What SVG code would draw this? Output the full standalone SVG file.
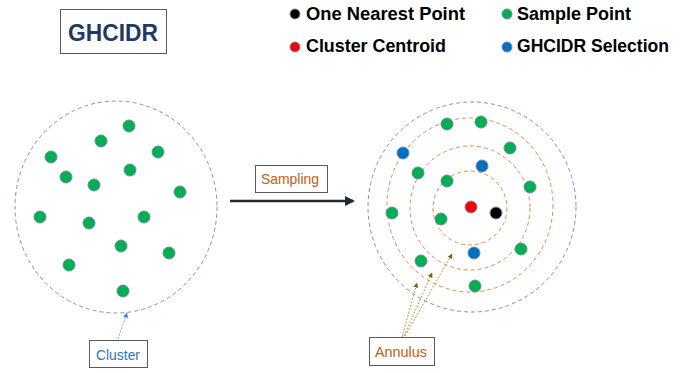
<svg xmlns="http://www.w3.org/2000/svg" width="700" height="373" viewBox="0 0 700 373">
<defs>
<style>
.g{fill:#00b050;stroke:#6f8aa8;stroke-width:1}
.b{fill:#0070c0;stroke:#6f8aa8;stroke-width:1}
.r{fill:#ff0000;stroke:#6f8aa8;stroke-width:1}
.k{fill:#000;stroke:#6f8aa8;stroke-width:1}
.lg{font-family:"Liberation Sans",Arial,sans-serif;font-weight:bold;font-size:17.5px;fill:#000}
.box{fill:#fff;stroke:#595959;stroke-width:1}
.lbl{font-family:"Liberation Sans",Arial,sans-serif;font-size:15px}
.bc{fill:none;stroke:#7f93b8;stroke-width:1;stroke-dasharray:4 3}
.oc{fill:none;stroke:#e8894a;stroke-width:1;stroke-dasharray:4 3}
</style>
<marker id="ab" viewBox="0 0 10 10" refX="9" refY="5" markerWidth="5" markerHeight="5" orient="auto"><path d="M0,0L10,5L0,10z" fill="#2e86d8"/></marker>
<marker id="ao" viewBox="0 0 10 10" refX="9" refY="5" markerWidth="5" markerHeight="5" orient="auto"><path d="M0,0L10,5L0,10z" fill="#7f6000"/></marker>
<marker id="ak" viewBox="0 0 10 10" refX="8" refY="5" markerWidth="4" markerHeight="4" orient="auto"><path d="M0,0L10,5L0,10z" fill="#222a35"/></marker>
</defs>
<rect width="700" height="373" fill="#fff"/>

<g id="title">
<rect class="box" x="60.5" y="9.5" width="106" height="44" stroke="#7f7f7f"/>
<text x="113" y="41" text-anchor="middle" font-family="Liberation Sans,Arial,sans-serif" font-weight="bold" font-size="24" fill="#1f3864" textLength="90" lengthAdjust="spacingAndGlyphs">GHCIDR</text>
</g>

<g id="legend">
<circle class="k" cx="295" cy="14" r="5"/>
<text class="lg" x="306" y="20" textLength="159" lengthAdjust="spacingAndGlyphs">One Nearest Point</text>
<circle class="r" cx="295" cy="47" r="5"/>
<text class="lg" x="306" y="52" textLength="140" lengthAdjust="spacingAndGlyphs">Cluster Centroid</text>
<circle class="g" cx="507" cy="14" r="5"/>
<text class="lg" x="517" y="20" textLength="114" lengthAdjust="spacingAndGlyphs">Sample Point</text>
<circle class="b" cx="507" cy="47" r="5"/>
<text class="lg" x="517" y="52" textLength="152" lengthAdjust="spacingAndGlyphs">GHCIDR Selection</text>
</g>

<g id="cluster-left">
<ellipse class="bc" cx="116" cy="207" rx="101" ry="106"/>
<circle class="g" cx="129" cy="126" r="6"/>
<circle class="g" cx="101" cy="141" r="6"/>
<circle class="g" cx="158" cy="152" r="6"/>
<circle class="g" cx="51" cy="157" r="6"/>
<circle class="g" cx="130" cy="170" r="6"/>
<circle class="g" cx="66" cy="177" r="6"/>
<circle class="g" cx="94" cy="185" r="6"/>
<circle class="g" cx="180" cy="192" r="6"/>
<circle class="g" cx="40" cy="217" r="6"/>
<circle class="g" cx="89" cy="223" r="6"/>
<circle class="g" cx="144" cy="217" r="6"/>
<circle class="g" cx="121" cy="246" r="6"/>
<circle class="g" cx="169" cy="253" r="6"/>
<circle class="g" cx="69" cy="265" r="6"/>
<circle class="g" cx="123" cy="291" r="6"/>
</g>

<g id="cluster-right">
<ellipse class="bc" cx="472" cy="207" rx="104" ry="105"/>
<circle class="oc" cx="470" cy="208" r="37"/>
<ellipse class="oc" cx="470" cy="208" rx="60" ry="62"/>
<ellipse class="oc" cx="470" cy="205" rx="83" ry="87"/>
<circle class="g" cx="447" cy="124" r="6"/>
<circle class="g" cx="481" cy="122" r="6"/>
<circle class="b" cx="403" cy="153" r="6"/>
<circle class="g" cx="510" cy="148" r="6"/>
<circle class="g" cx="418" cy="173" r="6"/>
<circle class="b" cx="482" cy="166" r="6"/>
<circle class="g" cx="447" cy="181" r="6"/>
<circle class="g" cx="530" cy="187" r="6"/>
<circle class="g" cx="392" cy="213" r="6"/>
<circle class="r" cx="471" cy="207" r="6"/>
<circle class="k" cx="496" cy="213" r="6"/>
<circle class="g" cx="441" cy="219" r="6"/>
<circle class="g" cx="521" cy="249" r="6"/>
<circle class="b" cx="474" cy="253" r="6"/>
<circle class="g" cx="421" cy="261" r="6"/>
<circle class="g" cx="475" cy="286" r="6"/>
</g>

<g id="connectors">
<line x1="230" y1="201" x2="353" y2="201" stroke="#222a35" stroke-width="2.5" marker-end="url(#ak)"/>
<line x1="118" y1="339" x2="127" y2="313" stroke="#6aaee8" stroke-width="1" stroke-dasharray="2 1.5" marker-end="url(#ab)"/>
<line x1="402" y1="337" x2="417" y2="283" stroke="#b59a4a" stroke-width="1" stroke-dasharray="2 1.5" marker-end="url(#ao)"/>
<line x1="404" y1="336" x2="432" y2="273" stroke="#b59a4a" stroke-width="1" stroke-dasharray="2 1.5" marker-end="url(#ao)"/>
<line x1="405" y1="336" x2="452" y2="254" stroke="#b59a4a" stroke-width="1" stroke-dasharray="2 1.5" marker-end="url(#ao)"/>
</g>

<g id="label-sampling">
<rect class="box" x="255.5" y="165.5" width="72" height="27"/>
<text class="lbl" x="290" y="183.5" text-anchor="middle" fill="#c55a11" textLength="58" lengthAdjust="spacingAndGlyphs">Sampling</text>
</g>
<g id="label-cluster">
<rect class="box" x="89.5" y="340.5" width="58" height="27"/>
<text class="lbl" x="118" y="359.5" text-anchor="middle" fill="#2e75b6" textLength="44" lengthAdjust="spacingAndGlyphs">Cluster</text>
</g>
<g id="label-annulus">
<rect class="box" x="369.5" y="337.5" width="65" height="28"/>
<text class="lbl" x="401" y="356.5" text-anchor="middle" fill="#c55a11" textLength="52" lengthAdjust="spacingAndGlyphs">Annulus</text>
</g>
</svg>
